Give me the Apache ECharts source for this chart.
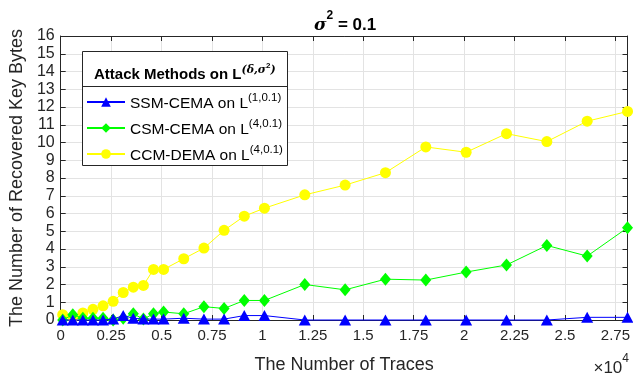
<!DOCTYPE html>
<html><head><meta charset="utf-8">
<script src="https://cdn.jsdelivr.net/npm/echarts@6/dist/echarts.min.js"></script>
<style>html,body{margin:0;padding:0;background:#fff}#c{width:633px;height:379px}</style>
</head><body><div id="c"></div>
<script>
const traces = [100,600,1100,1600,2100,2600,3100,3600,4100,4600,5100,6100,7100,8100,9100,10100,12100,14100,16100,18100,20100,22100,24100,26100,28100];
const ssmCema = [0,0,0,0,0,0.05,0.25,0.1,0.05,0.05,0.05,0.1,0.05,0.05,0.25,0.25,0,0,0,0,0,0,0,0.15,0.15];
const csmCema = [0,0.3,0.1,0.1,0.1,0,0.1,0.35,0.05,0.35,0.45,0.35,0.75,0.65,1.1,1.1,2.0,1.7,2.3,2.25,2.7,3.1,4.2,3.6,5.2];
const ccmDema = [0.3,0.15,0.4,0.6,0.8,1.05,1.55,1.85,1.95,2.85,2.85,3.45,4.05,5.05,5.85,6.3,7.05,7.6,8.3,9.75,9.45,10.5,10.05,11.2,11.75];
const seriesNames = ['SSM-CEMA on L(1,0.1)','CSM-CEMA on L(4,0.1)','CCM-DEMA on L(4,0.1)'];
const seriesSup = ['(1,0.1)','(4,0.1)','(4,0.1)'];
const seriesBase = ['SSM-CEMA on L','CSM-CEMA on L','CCM-DEMA on L'];

const FONT = '"Liberation Sans", Arial, Helvetica, sans-serif';
const AX = '#262626';
const pair = (xs, ys) => xs.map((x, i) => [x, ys[i]]);

const chart = echarts.init(document.getElementById('c'), null, {renderer: 'canvas'});
const axisCommon = {
  axisLine: {show: true, onZero: false, lineStyle: {color: AX, width: 1}},
  axisTick: {show: true, inside: true, length: 5, lineStyle: {color: AX}},
};
chart.setOption({
  animation: false,
  backgroundColor: '#fff',
  textStyle: {fontFamily: FONT},
  title: {
    text: '{i|σ}{s|2}{b| = 0.1}',
    left: 309, top: 5,
    textStyle: {
      rich: {
        i: {fontFamily: 'DejaVu Serif, serif', fontStyle: 'italic', fontWeight: 'bold', fontSize: 17, color: '#000', lineHeight: 24, verticalAlign: 'bottom'},
        s: {fontFamily: FONT, fontWeight: 'bold', fontSize: 12, color: '#000', verticalAlign: 'top', lineHeight: 24},
        b: {fontFamily: FONT, fontWeight: 'bold', fontSize: 17, color: '#000', lineHeight: 24, verticalAlign: 'bottom'}
      }
    }
  },
  grid: {left: 60, right: 5, top: 36, bottom: 56, containLabel: false},
  xAxis: [{
    type: 'value', min: 0, max: 28100, interval: 2500,
    ...axisCommon,
    axisLabel: {color: AX, fontSize: 15, fontFamily: FONT, margin: 8, showMaxLabel: false,
      formatter: v => String(+(v / 10000).toFixed(2))},
    splitLine: {show: true, lineStyle: {color: '#e3e3e3', width: 1}},
    name: 'The Number of Traces', nameLocation: 'middle', nameGap: 36,
    nameTextStyle: {color: AX, fontSize: 18, fontFamily: FONT}
  }, {
    type: 'value', position: 'top', min: 0, max: 28100, interval: 2500,
    ...axisCommon,
    axisLabel: {show: false}, splitLine: {show: false}
  }],
  yAxis: [{
    type: 'value', min: 0, max: 16, interval: 1,
    ...axisCommon,
    axisLabel: {color: AX, fontSize: 16, fontFamily: FONT, margin: 6},
    splitLine: {show: true, lineStyle: {color: '#e3e3e3', width: 1}},
    name: 'The Number of Recovered Key Bytes', nameLocation: 'middle', nameGap: 23,
    nameTextStyle: {color: AX, fontSize: 18, fontFamily: FONT}
  }, {
    type: 'value', position: 'right', min: 0, max: 16, interval: 1,
    ...axisCommon,
    axisLabel: {show: false}, splitLine: {show: false}
  }],
  legend: {
    orient: 'vertical', left: 81, top: 87, z: 6, padding: 5,
    itemWidth: 38, itemHeight: 12, itemGap: 6,
    data: seriesNames,
    formatter: name => {
      const i = seriesNames.indexOf(name);
      return '{a|' + seriesBase[i] + '}{s|' + seriesSup[i] + '}';
    },
    textStyle: {
      color: '#000',
      rich: {
        a: {fontSize: 15.5, fontFamily: FONT, color: '#000', lineHeight: 20, verticalAlign: 'bottom'},
        s: {fontSize: 11.5, fontFamily: FONT, color: '#000', verticalAlign: 'top', lineHeight: 20}
      }
    }
  },
  graphic: [
    {type: 'rect', z: 5, shape: {x: 82.5, y: 51.5, width: 205, height: 114},
     style: {fill: '#fff', stroke: AX, lineWidth: 1}},
    {type: 'line', z: 5, shape: {x1: 82.5, y1: 86.5, x2: 287.5, y2: 86.5},
     style: {stroke: AX, lineWidth: 1}},
    {type: 'text', z: 6, left: 94, top: 60,
     style: {
       text: '{b|Attack Methods on L}{s|(δ,σ}{t|2}{s|)}',
       rich: {
         b: {fontSize: 15, fontWeight: 'bold', fontFamily: FONT, fill: '#000', lineHeight: 22, verticalAlign: 'bottom'},
         s: {fontSize: 11, fontWeight: 'bold', fontStyle: 'italic', fontFamily: 'DejaVu Serif, serif', fill: '#000', verticalAlign: 'top', lineHeight: 22, padding: [5, 0, 0, 0]},
         t: {fontSize: 8, fontWeight: 'bold', fontFamily: FONT, fill: '#000', verticalAlign: 'top', lineHeight: 22, padding: [2, 0, 0, 0]}
       }
     }},
    {type: 'text', z: 6, right: 4, bottom: 2,
     style: {
       text: '{a|×10}{s|4}',
       rich: {
         a: {fontSize: 17, fontFamily: FONT, fill: AX, lineHeight: 24, verticalAlign: 'bottom'},
         s: {fontSize: 12, fontFamily: FONT, fill: AX, verticalAlign: 'top', lineHeight: 24}
       }
     }}
  ],
  series: [
    {name: seriesNames[0], type: 'line', data: pair(traces, ssmCema), z: 4,
     symbol: 'triangle', symbolSize: [12, 11], clip: false,
     itemStyle: {color: '#0000ff'}, lineStyle: {color: '#0000ff', width: 1}},
    {name: seriesNames[1], type: 'line', data: pair(traces, csmCema), z: 3,
     symbol: 'diamond', symbolSize: [11, 13], clip: false,
     itemStyle: {color: '#00ff00'}, lineStyle: {color: '#00ff00', width: 1}},
    {name: seriesNames[2], type: 'line', data: pair(traces, ccmDema), z: 2,
     symbol: 'circle', symbolSize: 11, clip: false,
     itemStyle: {color: '#ffff00'}, lineStyle: {color: '#ffff00', width: 1}}
  ]
});
</script></body></html>
